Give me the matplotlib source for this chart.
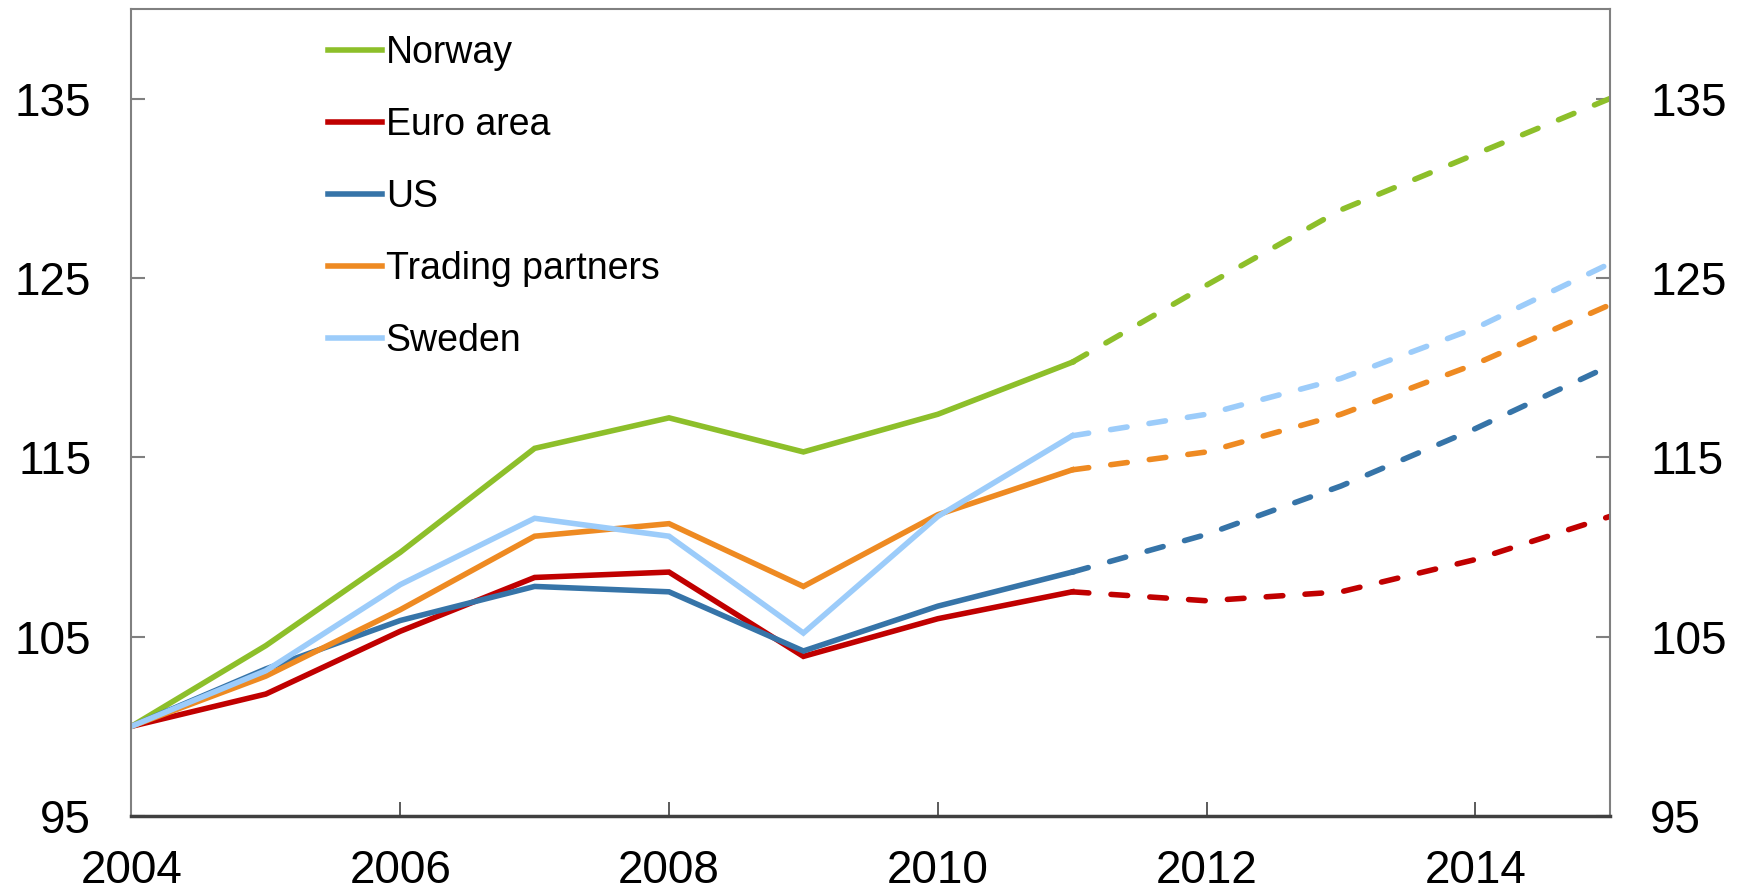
import matplotlib
matplotlib.use('Agg')
import matplotlib.pyplot as plt

plt.rcParams['font.family'] = ['Liberation Sans', 'DejaVu Sans']

years = [2004, 2005, 2006, 2007, 2008, 2009, 2010, 2011]
years_fc = [2011, 2012, 2013, 2014, 2015]

norway = [100, 104.5, 109.7, 115.5, 117.2, 115.3, 117.4, 120.3]
norway_fc = [120.3, 124.6, 128.8, 131.9, 135.0]
euro = [100, 101.8, 105.3, 108.3, 108.6, 103.9, 106.0, 107.5]
euro_fc = [107.5, 107.0, 107.5, 109.3, 111.7]
us = [100, 103.2, 105.9, 107.8, 107.5, 104.2, 106.7, 108.6]
us_fc = [108.6, 110.7, 113.4, 116.6, 120.1]
trading = [100, 102.8, 106.5, 110.6, 111.3, 107.8, 111.8, 114.3]
trading_fc = [114.3, 115.3, 117.4, 120.2, 123.5]
sweden = [100, 103.1, 107.9, 111.6, 110.6, 105.2, 111.7, 116.2]
sweden_fc = [116.2, 117.4, 119.4, 122.2, 125.8]

series = [
    ('Norway', norway, norway_fc, '#8DBF2A'),
    ('Euro area', euro, euro_fc, '#C00000'),
    ('US', us, us_fc, '#3674A8'),
    ('Trading partners', trading, trading_fc, '#EE8A22'),
    ('Sweden', sweden, sweden_fc, '#9CCCFA'),
]

fig = plt.figure(figsize=(17.48, 8.96), dpi=100)
ax = fig.add_axes([0.0752, 0.0893, 0.8457, 0.9007])

lw = 4
for name, hist, fc, col in series:
    ax.plot(years, hist, color=col, lw=lw, label=name, solid_joinstyle='miter')
    ax.plot(years_fc, fc, color=col, lw=lw, dashes=(3, 4), dash_capstyle='round')

ax.set_xlim(2004, 2015)
ax.set_ylim(95, 140)
ax.set_xticks([2004, 2006, 2008, 2010, 2012, 2014])
ax.set_yticks([95, 105, 115, 125, 135])

# inward ticks, labels on both sides
ax.tick_params(axis='x', direction='in', length=10, width=1.2, color='#404040',
               labelsize=33, pad=24)
ax.tick_params(axis='y', direction='in', length=10, width=1.5, color='#808080',
               labelsize=33, pad=29, left=True, right=True, labelright=True)

for s in ['left', 'right', 'top']:
    ax.spines[s].set_color('#808080')
    ax.spines[s].set_linewidth(1.5)
ax.spines['bottom'].set_color('#404040')
ax.spines['bottom'].set_linewidth(2.5)

ax.legend(loc='upper left', bbox_to_anchor=(0.115, 1.0), frameon=False,
          fontsize=27, handlelength=1.45, handletextpad=0.1, labelspacing=0.96,
          borderaxespad=0.3)

fig.savefig('out.png', dpi=100)
